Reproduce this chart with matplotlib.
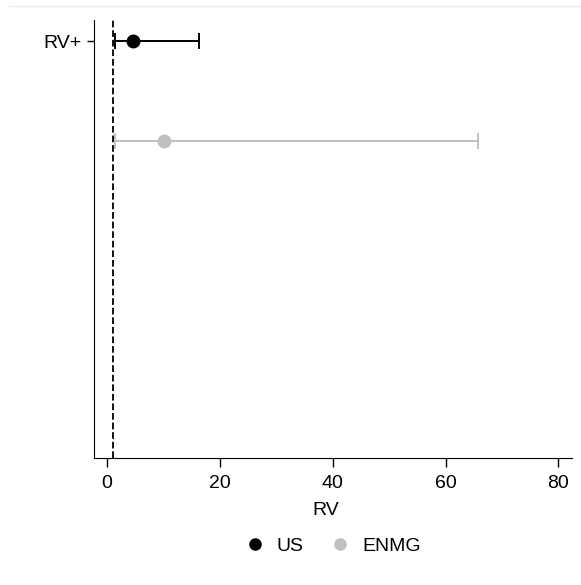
import matplotlib.pyplot as plt
from matplotlib.lines import Line2D

# data
groups = ["US", "ENMG"]
estimates = [4.6, 10.1]
ci_low = [1.4, 1.5]
ci_high = [16.3, 65.8]
ypos = [0, 1]
colors = ["black", "#c0c0c0"]
ref_value = 1
xticks = [0, 20, 40, 60, 80]

plt.rcParams['font.family'] = ['Liberation Sans', 'DejaVu Sans']

fig = plt.figure(figsize=(5.81, 5.85), dpi=100)
ax = fig.add_axes([0.1618, 0.2171, 0.8227, 0.7487])

for g, est, lo, hi, y, c in zip(groups, estimates, ci_low, ci_high, ypos, colors):
    ax.errorbar(est, y, xerr=[[est - lo], [hi - est]], fmt='o', color=c,
                ecolor=c, elinewidth=1.4, capsize=6, capthick=1.4,
                markersize=9, label=g)

ax.axvline(ref_value, color='black', linestyle='--', linewidth=1.3)

ax.set_xlim(-2.3, 82.4)
ax.set_ylim(4.17, -0.21)
ax.set_xticks(xticks)
ax.set_yticks([0])
ax.set_yticklabels(["RV+"])
ax.set_xlabel("RV", fontsize=14)
ax.xaxis.set_label_coords(0.485, -0.12)
ax.xaxis.label.set_va('center')
ax.tick_params(axis='x', labelsize=14, length=6.5, width=1, pad=6)
ax.tick_params(axis='y', labelsize=14, length=5, width=1, pad=4)
ax.spines['top'].set_visible(False)
ax.spines['right'].set_visible(False)

handles = [Line2D([], [], marker='o', linestyle='', color=c, markersize=8) for c in colors]
fig.legend(handles, groups, loc='center', bbox_to_anchor=(0.573, 0.066),
           ncol=2, frameon=False, fontsize=14, handlelength=1.0,
           handletextpad=0.63, columnspacing=1.4, borderpad=0)

fig.add_artist(Line2D([0.016, 1.0], [0.99, 0.99], color='#e6eef0', linewidth=1,
                      transform=fig.transFigure))

fig.savefig("out.png", dpi=100)
